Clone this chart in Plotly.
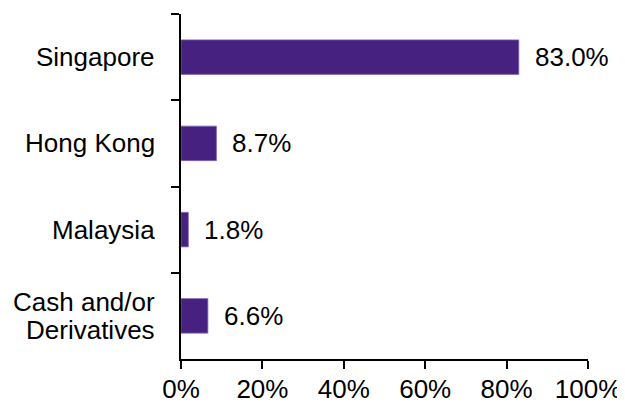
import plotly.graph_objects as go

categories = ["Singapore", "Hong Kong", "Malaysia", "Cash and/or Derivatives"]
category_lines = [["Singapore"], ["Hong Kong"], ["Malaysia"], ["Cash and/or", "Derivatives"]]
values = [83.0, 8.7, 1.8, 6.6]
value_labels = ["83.0%", "8.7%", "1.8%", "6.6%"]
x_tickvals = [0, 20, 40, 60, 80, 100]
x_ticktext = ["0%", "20%", "40%", "60%", "80%", "100%"]

bar_color = "#46217F"
font_family = "Liberation Sans, Arial, sans-serif"
fsize = 26

fig = go.Figure()
fig.add_trace(go.Bar(
    x=values, y=categories, orientation="h", width=0.4,
    marker=dict(color=bar_color, line=dict(color="#7E66AE", width=0.8)),
    hoverinfo="skip",
))

for v, c, t in zip(values, categories, value_labels):
    fig.add_annotation(x=v, y=c, text=t, showarrow=False, xanchor="left",
                       yanchor="middle", xshift=14,
                       font=dict(size=fsize, color="#000000", family=font_family))

# category labels (left of the axis), multi-line with tight spacing
line_gap = 28
for c, lines in zip(categories, category_lines):
    n = len(lines)
    for i, ln in enumerate(lines):
        offset = ((n - 1) / 2 - i) * line_gap
        fig.add_annotation(x=0, xref="paper", y=c, yref="y", text=ln,
                           showarrow=False, xanchor="right", yanchor="middle",
                           xshift=-24, yshift=offset,
                           font=dict(size=fsize, color="#000000", family=font_family))

fig.update_layout(
    width=617, height=395,
    margin=dict(l=173, r=37, t=6, b=44),
    paper_bgcolor="white", plot_bgcolor="white",
    showlegend=False,
    font=dict(family=font_family, size=fsize, color="#000000"),
)
fig.update_xaxes(
    range=[0, 100], tickvals=x_tickvals, ticktext=x_ticktext,
    showgrid=False, zeroline=False, showline=True, linecolor="black",
    linewidth=2, ticks="outside", ticklen=8, tickwidth=2, tickcolor="black",
    tickfont=dict(size=fsize), fixedrange=True, automargin=False,
    ticklabelstandoff=-2,
)
fig.update_yaxes(
    categoryorder="array", categoryarray=categories, range=[3.5, -0.5],
    showgrid=False, zeroline=False, showline=True, linecolor="black",
    linewidth=2, ticks="outside", ticklen=8, tickwidth=2, tickcolor="black",
    tickson="boundaries", showticklabels=False, fixedrange=True,
    automargin=False,
)

fig.write_html("out.html")
